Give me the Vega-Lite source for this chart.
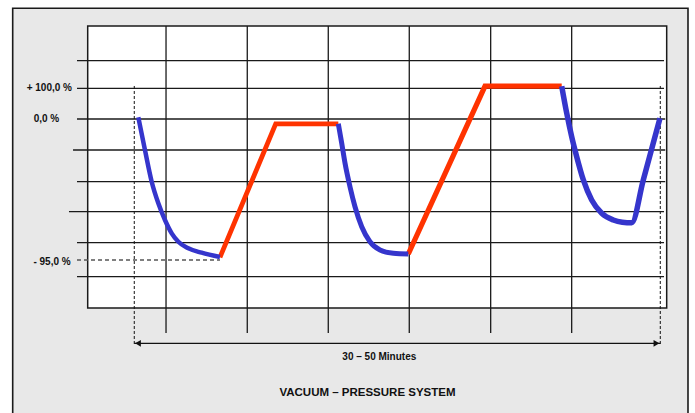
{
  "$schema": "https://vega.github.io/schema/vega-lite/v6.json",
  "width": 695,
  "height": 413,
  "padding": 0,
  "autosize": {"type": "fit", "contains": "padding"},
  "background": "white",
  "config": {"view": {"stroke": null}},
  "datasets": {
    "panel": [{"x": -0.926, "x2": 7.411, "y": 9.566, "y2": -3.7}],
    "plot": [{"x": 0, "x2": 7.148, "y": 9.0, "y2": 0}],
    "grid": [
      {"x": -0.132, "x2": 7.115, "y": 7.893, "y2": 7.893},
      {"x": -0.132, "x2": 7.115, "y": 7.012, "y2": 7.012},
      {"x": -0.132, "x2": 7.13, "y": 6.032, "y2": 6.032},
      {"x": -0.181, "x2": 7.13, "y": 5.043, "y2": 5.043},
      {"x": -0.132, "x2": 7.13, "y": 4.031, "y2": 4.031},
      {"x": -0.231, "x2": 7.115, "y": 3.074, "y2": 3.074},
      {"x": -0.132, "x2": 7.115, "y": 2.084, "y2": 2.084},
      {"x": -0.132, "x2": 7.115, "y": 0.999, "y2": 0.999},
      {"x": 0.967, "x2": 0.967, "y": 9.0, "y2": -0.798},
      {"x": 1.970, "x2": 1.970, "y": 9.0, "y2": -0.798},
      {"x": 2.970, "x2": 2.970, "y": 9.0, "y2": -0.798},
      {"x": 3.970, "x2": 3.970, "y": 9.0, "y2": -0.798},
      {"x": 4.975, "x2": 4.975, "y": 9.0, "y2": -0.798},
      {"x": 5.975, "x2": 5.975, "y": 9.0, "y2": -0.798}
    ],
    "guides": [
      {"x": 0.575, "x2": 0.575, "y": 7.086, "y2": -1.181, "kind": "v"},
      {"x": 7.069, "x2": 7.069, "y": 7.086, "y2": -1.181, "kind": "v"},
      {"x": -0.132, "x2": 1.633, "y": 1.532, "y2": 1.532, "kind": "h"}
    ],
    "span": [{"x": 0.575, "x2": 7.069, "y": -1.127, "y2": -1.127}],
    "heads": [
      {"x": 0.621, "y": -1.127, "dir": "left"},
      {"x": 7.022, "y": -1.127, "dir": "right"}
    ],
    "cycle": [
      {"segment": "A", "phase": "Vacuum", "x": 0.625, "y": 6.087},
      {"segment": "A", "phase": "Vacuum", "x": 0.707, "y": 5.043},
      {"segment": "A", "phase": "Vacuum", "x": 0.790, "y": 4.031},
      {"segment": "A", "phase": "Vacuum", "x": 0.872, "y": 3.342},
      {"segment": "A", "phase": "Vacuum", "x": 0.954, "y": 2.809},
      {"segment": "A", "phase": "Vacuum", "x": 1.037, "y": 2.384},
      {"segment": "A", "phase": "Vacuum", "x": 1.119, "y": 2.116},
      {"segment": "A", "phase": "Vacuum", "x": 1.242, "y": 1.906},
      {"segment": "A", "phase": "Vacuum", "x": 1.407, "y": 1.765},
      {"segment": "A", "phase": "Vacuum", "x": 1.633, "y": 1.627},
      {"segment": "B", "phase": "Pressure", "x": 1.633, "y": 1.618},
      {"segment": "B", "phase": "Pressure", "x": 2.321, "y": 5.88},
      {"segment": "B", "phase": "Pressure", "x": 3.094, "y": 5.88},
      {"segment": "C", "phase": "Vacuum", "x": 3.094, "y": 5.88},
      {"segment": "C", "phase": "Vacuum", "x": 3.136, "y": 5.257},
      {"segment": "C", "phase": "Vacuum", "x": 3.177, "y": 4.619},
      {"segment": "C", "phase": "Vacuum", "x": 3.238, "y": 3.872},
      {"segment": "C", "phase": "Vacuum", "x": 3.300, "y": 3.233},
      {"segment": "C", "phase": "Vacuum", "x": 3.383, "y": 2.595},
      {"segment": "C", "phase": "Vacuum", "x": 3.485, "y": 2.116},
      {"segment": "C", "phase": "Vacuum", "x": 3.609, "y": 1.851},
      {"segment": "C", "phase": "Vacuum", "x": 3.773, "y": 1.746},
      {"segment": "C", "phase": "Vacuum", "x": 3.958, "y": 1.724},
      {"segment": "D", "phase": "Pressure", "x": 3.958, "y": 1.724},
      {"segment": "D", "phase": "Pressure", "x": 4.905, "y": 7.08},
      {"segment": "D", "phase": "Pressure", "x": 5.852, "y": 7.08},
      {"segment": "E", "phase": "Vacuum", "x": 5.852, "y": 7.08},
      {"segment": "E", "phase": "Vacuum", "x": 5.914, "y": 6.214},
      {"segment": "E", "phase": "Vacuum", "x": 5.975, "y": 5.468},
      {"segment": "E", "phase": "Vacuum", "x": 6.037, "y": 4.829},
      {"segment": "E", "phase": "Vacuum", "x": 6.119, "y": 4.086},
      {"segment": "E", "phase": "Vacuum", "x": 6.222, "y": 3.447},
      {"segment": "E", "phase": "Vacuum", "x": 6.346, "y": 3.023},
      {"segment": "E", "phase": "Vacuum", "x": 6.489, "y": 2.809},
      {"segment": "E", "phase": "Vacuum", "x": 6.600, "y": 2.74},
      {"segment": "E", "phase": "Vacuum", "x": 6.716, "y": 2.723},
      {"segment": "E", "phase": "Vacuum", "x": 6.859, "y": 4.086},
      {"segment": "E", "phase": "Vacuum", "x": 7.065, "y": 6.055}
    ],
    "labels": [
      {"text": "+ 100,0 %", "x": -0.194, "y": 7.022},
      {"text": "0,0 %", "x": -0.351, "y": 6.032},
      {"text": "- 95,0 %", "x": -0.21, "y": 1.478}
    ],
    "captions": [
      {"text": "30 – 50 Minutes", "x": 3.600, "y": -1.564}
    ],
    "title": [
      {"text": "VACUUM – PRESSURE SYSTEM", "x": 3.454, "y": -2.713}
    ]
  },
  "layer": [
    {
      "data": {"name": "panel"},
      "mark": {"type": "rect", "fill": "#e8e8e8", "stroke": "#1a1a1a", "strokeWidth": 1.6, "clip": true},
      "encoding": {
        "x": {"field": "x", "type": "quantitative", "scale": {"domain": [-1.0827, 7.4975], "nice": false, "zero": false}, "axis": null},
        "x2": {"field": "x2"},
        "y": {"field": "y", "type": "quantitative", "scale": {"domain": [-3.3514, 9.8308], "nice": false, "zero": false}, "axis": null},
        "y2": {"field": "y2"}
      }
    },
    {
      "data": {"name": "plot"},
      "mark": {"type": "rect", "fill": "white", "stroke": "#1a1a1a", "strokeWidth": 1.5},
      "encoding": {
        "x": {"field": "x", "type": "quantitative", "scale": {"domain": [-1.0827, 7.4975], "nice": false, "zero": false}, "axis": null},
        "x2": {"field": "x2"},
        "y": {"field": "y", "type": "quantitative", "scale": {"domain": [-3.3514, 9.8308], "nice": false, "zero": false}, "axis": null},
        "y2": {"field": "y2"}
      }
    },
    {
      "data": {"name": "grid"},
      "mark": {"type": "rule", "color": "#1a1a1a", "strokeWidth": 1.3},
      "encoding": {
        "x": {"field": "x", "type": "quantitative", "scale": {"domain": [-1.0827, 7.4975], "nice": false, "zero": false}, "axis": null},
        "x2": {"field": "x2"},
        "y": {"field": "y", "type": "quantitative", "scale": {"domain": [-3.3514, 9.8308], "nice": false, "zero": false}, "axis": null},
        "y2": {"field": "y2"}
      }
    },
    {
      "data": {"name": "guides"},
      "transform": [{"filter": "datum.kind === 'v'"}],
      "mark": {"type": "rule", "color": "#111111", "strokeWidth": 1, "strokeDash": [3, 2]},
      "encoding": {
        "x": {"field": "x", "type": "quantitative", "scale": {"domain": [-1.0827, 7.4975], "nice": false, "zero": false}, "axis": null},
        "x2": {"field": "x2"},
        "y": {"field": "y", "type": "quantitative", "scale": {"domain": [-3.3514, 9.8308], "nice": false, "zero": false}, "axis": null},
        "y2": {"field": "y2"}
      }
    },
    {
      "data": {"name": "guides"},
      "transform": [{"filter": "datum.kind === 'h'"}],
      "mark": {"type": "rule", "color": "#555555", "strokeWidth": 1.3, "strokeDash": [4, 3]},
      "encoding": {
        "x": {"field": "x", "type": "quantitative", "scale": {"domain": [-1.0827, 7.4975], "nice": false, "zero": false}, "axis": null},
        "x2": {"field": "x2"},
        "y": {"field": "y", "type": "quantitative", "scale": {"domain": [-3.3514, 9.8308], "nice": false, "zero": false}, "axis": null},
        "y2": {"field": "y2"}
      }
    },
    {
      "data": {"name": "span"},
      "mark": {"type": "rule", "color": "#111111", "strokeWidth": 1.2},
      "encoding": {
        "x": {"field": "x", "type": "quantitative", "scale": {"domain": [-1.0827, 7.4975], "nice": false, "zero": false}, "axis": null},
        "x2": {"field": "x2"},
        "y": {"field": "y", "type": "quantitative", "scale": {"domain": [-3.3514, 9.8308], "nice": false, "zero": false}, "axis": null},
        "y2": {"field": "y2"}
      }
    },
    {
      "data": {"name": "heads"},
      "mark": {"type": "point", "filled": true, "color": "#111111", "opacity": 1, "size": 45},
      "encoding": {
        "x": {"field": "x", "type": "quantitative", "scale": {"domain": [-1.0827, 7.4975], "nice": false, "zero": false}, "axis": null},
        "y": {"field": "y", "type": "quantitative", "scale": {"domain": [-3.3514, 9.8308], "nice": false, "zero": false}, "axis": null},
        "shape": {"field": "dir", "type": "nominal", "scale": {"domain": ["left", "right"], "range": ["triangle-left", "triangle-right"]}, "legend": null}
      }
    },
    {
      "data": {"name": "cycle"},
      "transform": [{"filter": "datum.phase === 'Pressure'"}],
      "mark": {"type": "line", "interpolate": "linear", "strokeCap": "butt", "strokeJoin": "miter"},
      "encoding": {
        "x": {"field": "x", "type": "quantitative", "scale": {"domain": [-1.0827, 7.4975], "nice": false, "zero": false}, "axis": null},
        "y": {"field": "y", "type": "quantitative", "scale": {"domain": [-3.3514, 9.8308], "nice": false, "zero": false}, "axis": null},
        "detail": {"field": "segment", "type": "nominal"},
        "color": {"field": "phase", "type": "nominal", "scale": {"domain": ["Vacuum", "Pressure"], "range": ["#3535cc", "#ff3300"]}, "legend": null},
        "strokeWidth": {"field": "segment", "type": "nominal", "scale": {"domain": ["A", "B", "C", "D", "E"], "range": [4.5, 5.5, 4.5, 5.5, 6.5]}, "legend": null}
      }
    },
    {
      "data": {"name": "cycle"},
      "transform": [{"filter": "datum.phase === 'Vacuum'"}],
      "mark": {"type": "line", "interpolate": "monotone", "strokeCap": "butt"},
      "encoding": {
        "x": {"field": "x", "type": "quantitative", "scale": {"domain": [-1.0827, 7.4975], "nice": false, "zero": false}, "axis": null},
        "y": {"field": "y", "type": "quantitative", "scale": {"domain": [-3.3514, 9.8308], "nice": false, "zero": false}, "axis": null},
        "detail": {"field": "segment", "type": "nominal"},
        "color": {"field": "phase", "type": "nominal", "scale": {"domain": ["Vacuum", "Pressure"], "range": ["#3535cc", "#ff3300"]}, "legend": null},
        "strokeWidth": {"field": "segment", "type": "nominal", "scale": {"domain": ["A", "B", "C", "D", "E"], "range": [4.5, 5.5, 4.5, 5.5, 6.5]}, "legend": null}
      }
    },
    {
      "data": {"name": "labels"},
      "mark": {"type": "text", "align": "right", "baseline": "middle", "font": "Liberation Sans", "fontWeight": "bold", "fontSize": 10, "color": "#111111"},
      "encoding": {
        "x": {"field": "x", "type": "quantitative", "scale": {"domain": [-1.0827, 7.4975], "nice": false, "zero": false}, "axis": null},
        "y": {"field": "y", "type": "quantitative", "scale": {"domain": [-3.3514, 9.8308], "nice": false, "zero": false}, "axis": null},
        "text": {"field": "text", "type": "nominal"}
      }
    },
    {
      "data": {"name": "captions"},
      "mark": {"type": "text", "align": "center", "baseline": "middle", "font": "Liberation Sans", "fontWeight": "bold", "fontSize": 10, "color": "#111111"},
      "encoding": {
        "x": {"field": "x", "type": "quantitative", "scale": {"domain": [-1.0827, 7.4975], "nice": false, "zero": false}, "axis": null},
        "y": {"field": "y", "type": "quantitative", "scale": {"domain": [-3.3514, 9.8308], "nice": false, "zero": false}, "axis": null},
        "text": {"field": "text", "type": "nominal"}
      }
    },
    {
      "data": {"name": "title"},
      "mark": {"type": "text", "align": "center", "baseline": "middle", "font": "Liberation Sans", "fontWeight": "bold", "fontSize": 11.5, "color": "#111111"},
      "encoding": {
        "x": {"field": "x", "type": "quantitative", "scale": {"domain": [-1.0827, 7.4975], "nice": false, "zero": false}, "axis": null},
        "y": {"field": "y", "type": "quantitative", "scale": {"domain": [-3.3514, 9.8308], "nice": false, "zero": false}, "axis": null},
        "text": {"field": "text", "type": "nominal"}
      }
    }
  ]
}
